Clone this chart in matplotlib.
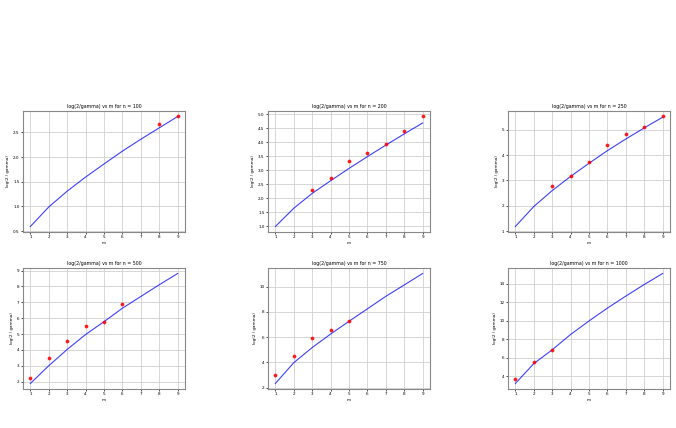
import matplotlib
matplotlib.use("Agg")
import matplotlib.pyplot as plt

m = [1, 2, 3, 4, 5, 6, 7, 8, 9]
n_values = [100, 200, 250, 500, 750, 1000]

# fitted curve, log(2/gamma) at each m
fit_100 = [0.595, 0.99, 1.31, 1.595, 1.86, 2.12, 2.36, 2.59, 2.82]
fit_200 = [1.0, 1.65, 2.18, 2.63, 3.07, 3.49, 3.90, 4.30, 4.69]
fit_250 = [1.18, 1.97, 2.6, 3.16, 3.68, 4.18, 4.64, 5.08, 5.5]
fit_500 = [1.88, 3.0, 4.03, 4.97, 5.78, 6.63, 7.37, 8.11, 8.82]
fit_750 = [2.32, 3.97, 5.17, 6.24, 7.25, 8.24, 9.23, 10.13, 11.04]
fit_1000 = [3.2, 5.35, 6.84, 8.5, 9.96, 11.35, 12.65, 13.9, 15.09]

# measured points
m_100 = [8, 9]
obs_100 = [2.66, 2.82]
m_200 = [3, 4, 5, 6, 7, 8, 9]
obs_200 = [2.31, 2.74, 3.35, 3.61, 3.93, 4.39, 4.92]
m_250 = [3, 4, 5, 6, 7, 8, 9]
obs_250 = [2.78, 3.17, 3.75, 4.42, 4.83, 5.1, 5.53]
m_500 = [1, 2, 3, 4, 5, 6]
obs_500 = [2.25, 3.46, 4.59, 5.52, 5.78, 6.88]
m_750 = [1, 2, 3, 4, 5]
obs_750 = [2.96, 4.53, 5.89, 6.59, 7.28]
m_1000 = [1, 2, 3]
obs_1000 = [3.64, 5.49, 6.87]

fits = [fit_100, fit_200, fit_250, fit_500, fit_750, fit_1000]
pts_m = [m_100, m_200, m_250, m_500, m_750, m_1000]
pts_y = [obs_100, obs_200, obs_250, obs_500, obs_750, obs_1000]

fig = plt.figure(figsize=(6.76, 4.28), dpi=100)

lefts = [23, 268, 508]
tops = [111, 268]
w, h = 162, 121
W, H = 676, 428

fs = 3.0
for i, n in enumerate(n_values):
    r, c = divmod(i, 3)
    ax = fig.add_axes([lefts[c] / W, 1 - (tops[r] + h) / H, w / W, h / H])
    ax.plot(m, fits[i], color="blue", lw=0.8, alpha=0.75)
    ax.scatter(pts_m[i], pts_y[i], color="red", s=3, alpha=0.8, zorder=3)
    ax.set_title("log(2/gamma) vs m for n = " + str(n), fontsize=3.4, pad=2)
    ax.set_xlabel("m", fontsize=fs, labelpad=1)
    ax.set_ylabel("log(2 / gamma)", fontsize=fs, labelpad=2)
    ax.set_xticks(m)
    ax.tick_params(labelsize=fs, length=1.5, width=0.5, pad=1)
    ax.grid(True, color="#d0d0d0", lw=0.6)
    for s in ax.spines.values():
        s.set_color("#888888")
        s.set_linewidth(0.8)

fig.savefig("out.png", dpi=100)
